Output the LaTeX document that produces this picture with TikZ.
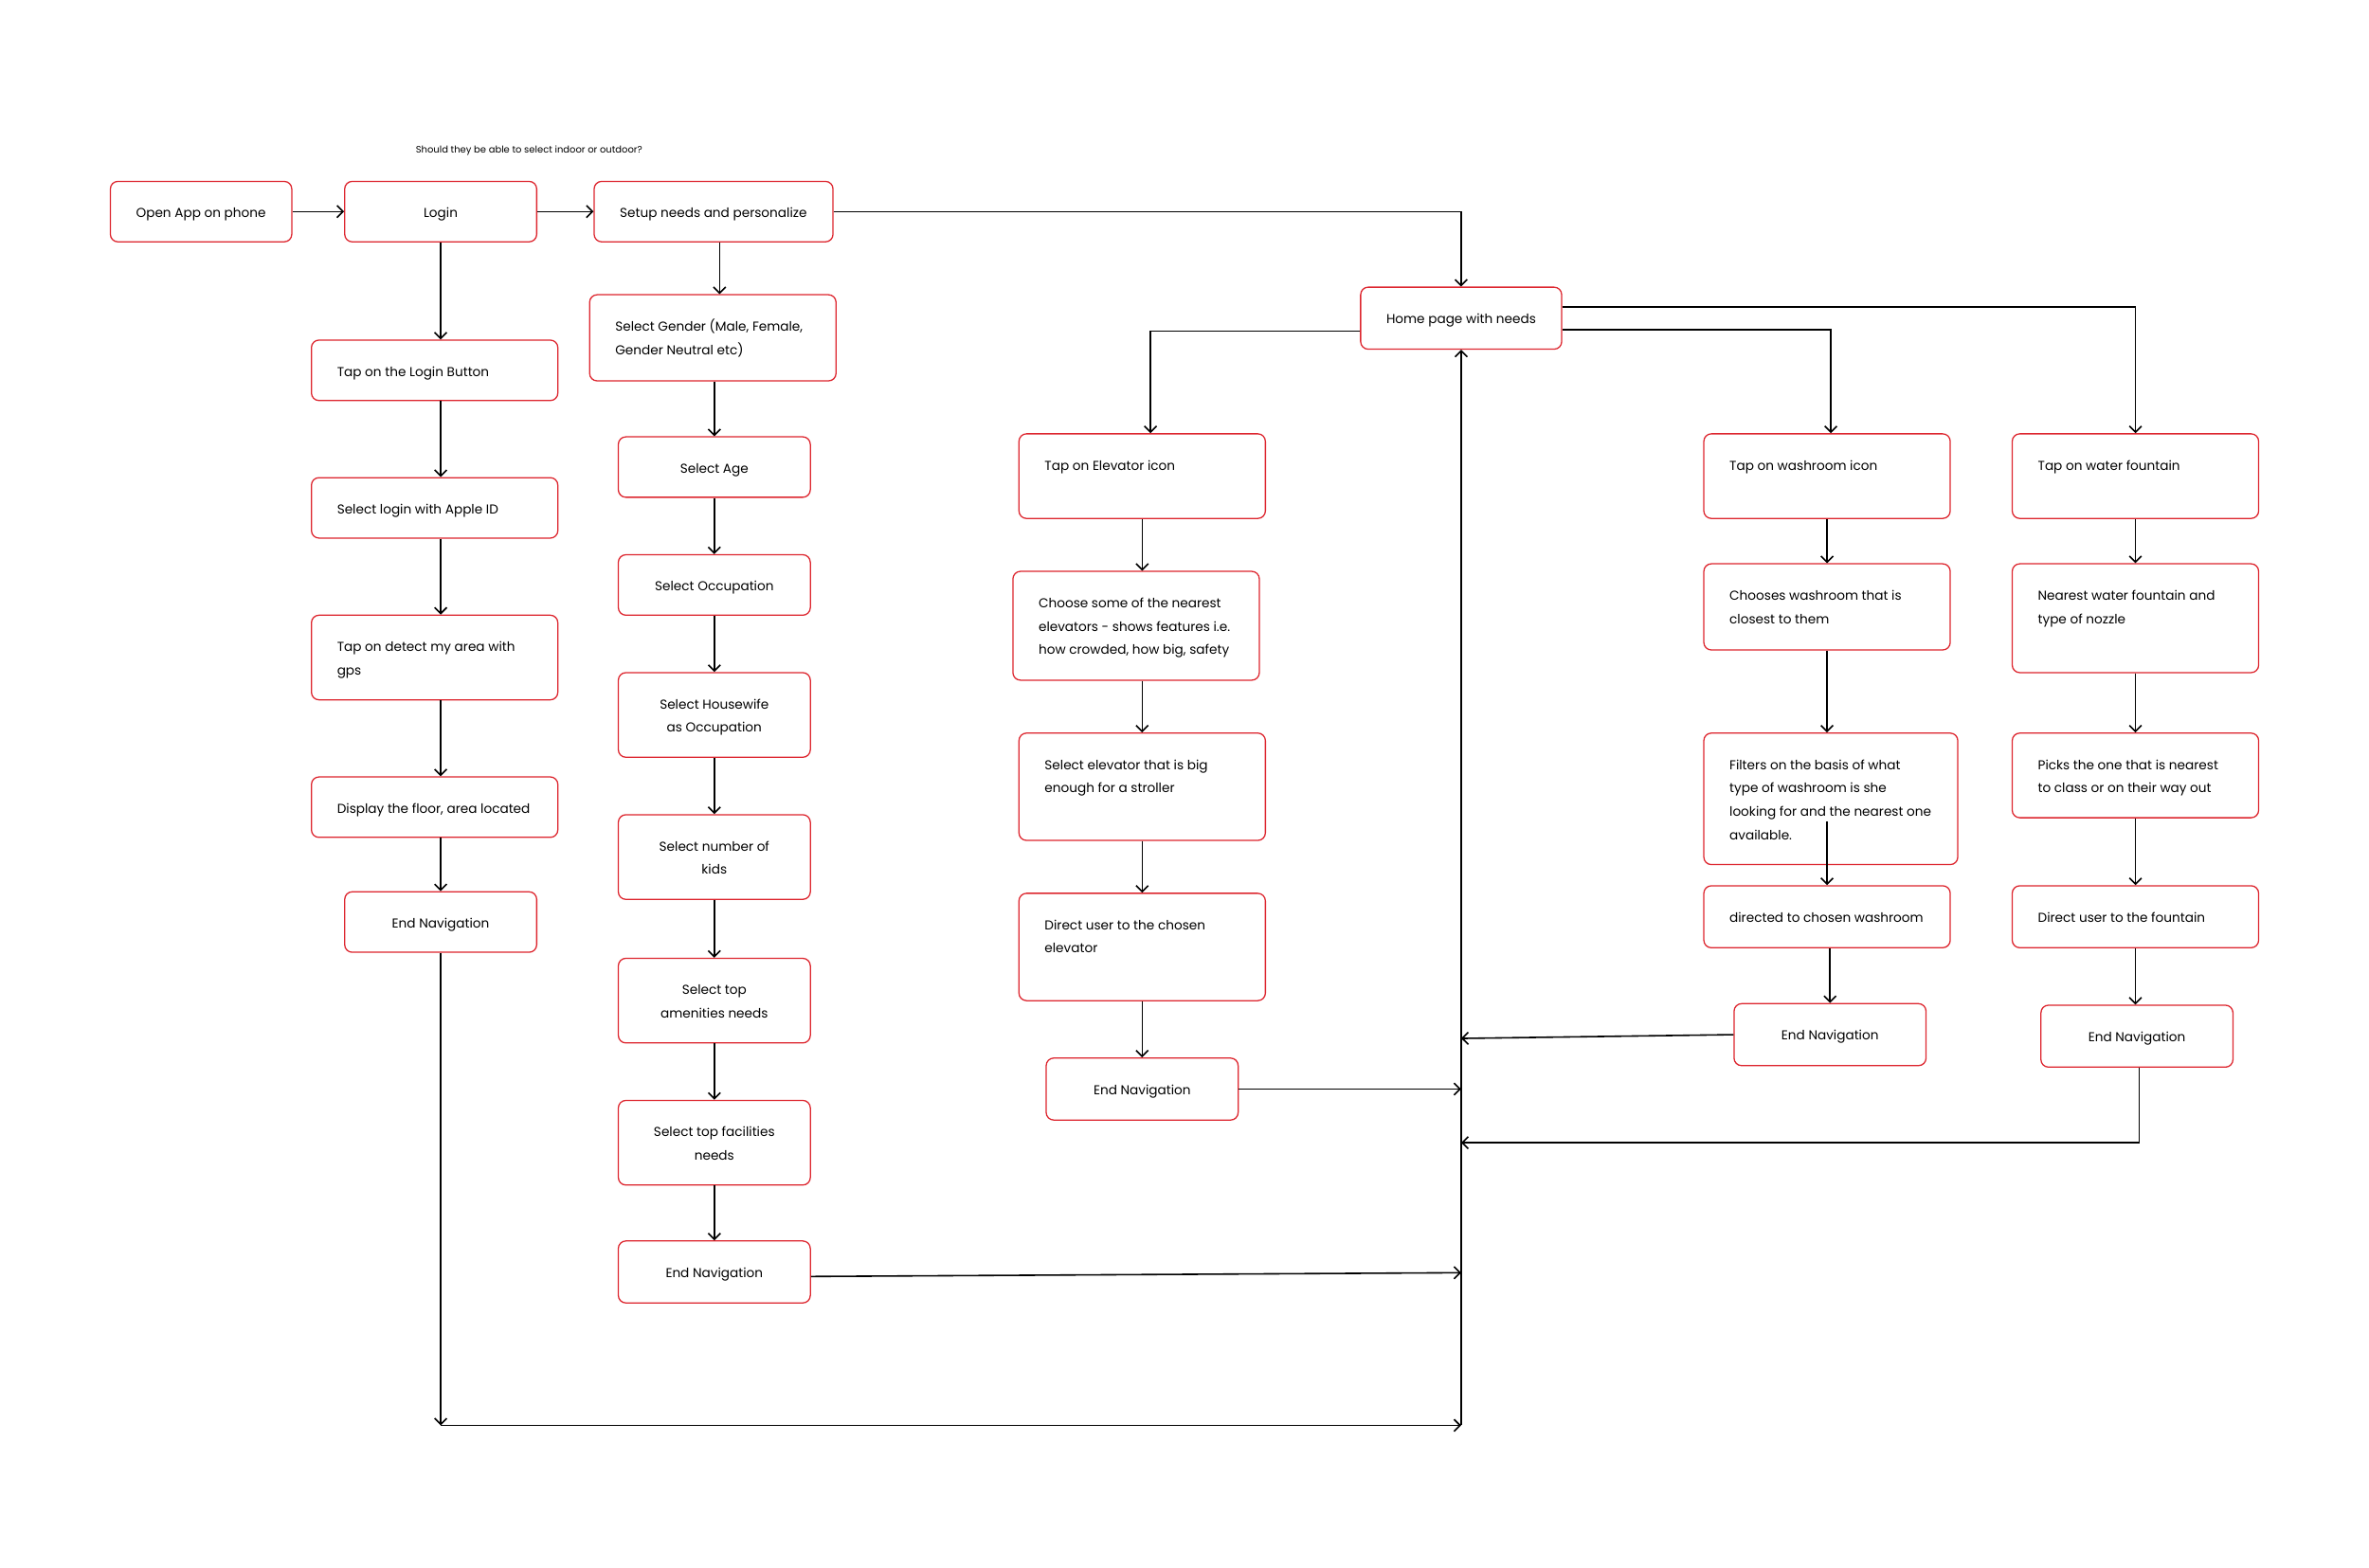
\documentclass[tikz,border=0pt]{standalone}
\usepackage{fontspec}
\setmainfont{Poppins}
\usetikzlibrary{arrows.meta}
\definecolor{boxred}{RGB}{221,37,46}

\begin{document}
\begin{tikzpicture}[x=1pt,y=-1pt,
  every node/.style={font=\fontsize{8.55}{15.5}\selectfont},
  boxbase/.style={draw=boxred,line width=0.8pt,rounded corners=5pt,fill=white,inner sep=0pt},
  flowbox/.style 2 args={boxbase,
    execute at begin node={\begin{minipage}[t][#2][t]{#1}\raggedright\leftskip=17pt\rightskip=-40pt plus 1fil\rule{0pt}{24pt}},
    execute at end node={\end{minipage}}},
  flowboxc/.style 2 args={boxbase,
    execute at begin node={\begin{minipage}[t][#2][t]{#1}\centering\rule{0pt}{24pt}},
    execute at end node={\end{minipage}}},
  arr/.style={-{Straight Barb[length=4pt,width=8pt]},line width=1pt},
]
\useasboundingbox (0,0) rectangle (1567,1037.3);

% first row
\node[flowbox={120pt}{40pt}] (open) at (133,140) {Open App on phone};
\node[flowboxc={127pt}{40pt}] (login) at (291.5,140) {Login};
\node[flowbox={158pt}{40pt}] (setup) at (472,140) {Setup needs and personalize};
\node (note) at (350,99.5) {\fontsize{6.25}{7}\selectfont Should they be able to select indoor or outdoor?};

% login column
\node[flowbox={163pt}{40pt}] (tap) at (287.5,245) {Tap on the Login Button};
\node[flowbox={163pt}{40pt}] (apple) at (287.5,336) {Select login with Apple ID};
\node[flowbox={163pt}{56pt}] (gps) at (287.5,435) {Tap on detect my area with\\gps};
\node[flowbox={163pt}{40pt}] (floor) at (287.5,534) {Display the floor, area located};
\node[flowboxc={127pt}{40pt}] (end1) at (291.5,610) {End Navigation};

% setup column
\node[flowbox={163pt}{57pt}] (gender) at (471.5,223.5) {Select Gender (Male, Female,\\Gender Neutral etc)};
\node[flowboxc={127pt}{40pt}] (age) at (472.5,309) {Select Age};
\node[flowboxc={127pt}{40pt}] (occup) at (472.5,387) {Select Occupation};
\node[flowboxc={127pt}{56pt}] (wife) at (472.5,473) {Select Housewife\\as Occupation};
\node[flowboxc={127pt}{56pt}] (kids) at (472.5,567) {Select number of\\kids};
\node[flowboxc={127pt}{56pt}] (amen) at (472.5,662) {Select top\\amenities needs};
\node[flowboxc={127pt}{56pt}] (facil) at (472.5,756) {Select top facilities\\needs};
\node[flowboxc={127pt}{41pt}] (end2) at (472.5,841.5) {End Navigation};

% home
\node[flowbox={133pt}{41pt}] (home) at (966.5,210.5) {Home page with needs};

% elevator
\node[flowbox={163pt}{56pt}] (elev) at (755.5,315) {Tap on Elevator icon};
\node[flowbox={163pt}{72pt}] (choose) at (751.5,414) {Choose some of the nearest\\elevators - shows features i.e.\\how crowded, how big, safety};
\node[flowbox={163pt}{71pt}] (big) at (755.5,520.5) {Select elevator that is big\\enough for a stroller};
\node[flowbox={163pt}{71pt}] (chosen) at (755.5,626.5) {Direct user to the chosen\\elevator};
\node[flowboxc={127pt}{41pt}] (end3) at (755.5,720.5) {End Navigation};

% washroom
\node[flowbox={163pt}{56pt}] (wash) at (1208.5,315) {Tap on washroom icon};
\node[flowbox={163pt}{57pt}] (closest) at (1208.5,401.5) {Chooses washroom that is\\closest to them};
\node[flowbox={168pt}{87pt}] (filter) at (1211,528.5) {Filters on the basis of what\\type of washroom is she\\looking for and the nearest one\\available.};
\node[flowbox={163pt}{41pt}] (directed) at (1208.5,606.5) {directed to chosen washroom};
\node[flowboxc={127pt}{41pt}] (end4) at (1210.5,684.5) {End Navigation};

% fountain
\node[flowbox={163pt}{56pt}] (water) at (1412.5,315) {Tap on water fountain};
\node[flowbox={163pt}{72pt}] (nearest) at (1412.5,409) {Nearest water fountain and\\type of nozzle};
\node[flowbox={163pt}{56pt}] (picks) at (1412.5,513) {Picks the one that is nearest\\to class or on their way out};
\node[flowbox={163pt}{41pt}] (fountain) at (1412.5,606.5) {Direct user to the fountain};
\node[flowboxc={127pt}{41pt}] (end5) at (1413.5,685.5) {End Navigation};

% junctions on the return line
\coordinate (c1) at (291.5,943);
\coordinate (c2) at (966.5,943);
\coordinate (j2) at (966.5,842);
\coordinate (j4) at (966.5,687);
\coordinate (j5) at (966.5,756);
\coordinate (s1) at ([xshift=4pt]setup.south);
\coordinate (f1) at ([yshift=29pt]filter.south);

\draw[arr] (open) -- (login);
\draw[arr] (login) -- (setup);
\draw[arr] (setup.east) -| (home.north);
\draw[arr] (s1) -- (s1 |- gender.north);

\foreach \a/\b in {login/tap,tap/apple,apple/gps,gps/floor,floor/end1}
  \draw[arr] (\a.south -| login) -- (\b.north -| login);
\draw[arr] (end1) -- (c1);
\draw[arr] (c1) -- (c2);
\draw[arr] (c2) -- (home.south);

\foreach \a/\b in {gender/age,age/occup,occup/wife,wife/kids,kids/amen,amen/facil,facil/end2}
  \draw[arr] (\a.south -| age) -- (\b.north -| age);
\draw[arr] ([yshift=-3pt]end2.east) -- (j2);

\draw[arr] ([yshift=-8.5pt]home.west) -| ([xshift=5.5pt]elev.north);
\foreach \a/\b in {elev/choose,choose/big,big/chosen,chosen/end3}
  \draw[arr] (\a.south -| elev) -- (\b.north -| elev);
\draw[arr] (end3.east) -- (end3.east -| home);

\draw[arr] ([yshift=-7.5pt]home.east) -| ([xshift=2.5pt]wash.north);
\foreach \a/\b in {wash/closest,closest/filter}
  \draw[arr] (\a.south -| wash) -- (\b.north -| wash);
\draw[arr] (f1 -| wash) -- (directed.north -| wash);
\draw[arr] (directed.south -| end4) -- (end4.north);
\draw[arr] (end4.west) -- (j4);

\draw[arr] ([yshift=7.5pt]home.east) -| (water.north);
\foreach \a/\b in {water/nearest,nearest/picks,picks/fountain,fountain/end5}
  \draw[arr] (\a.south -| water) -- (\b.north -| water);
\draw[arr] ([xshift=1.5pt]end5.south) |- (j5);
\end{tikzpicture}
\end{document}
